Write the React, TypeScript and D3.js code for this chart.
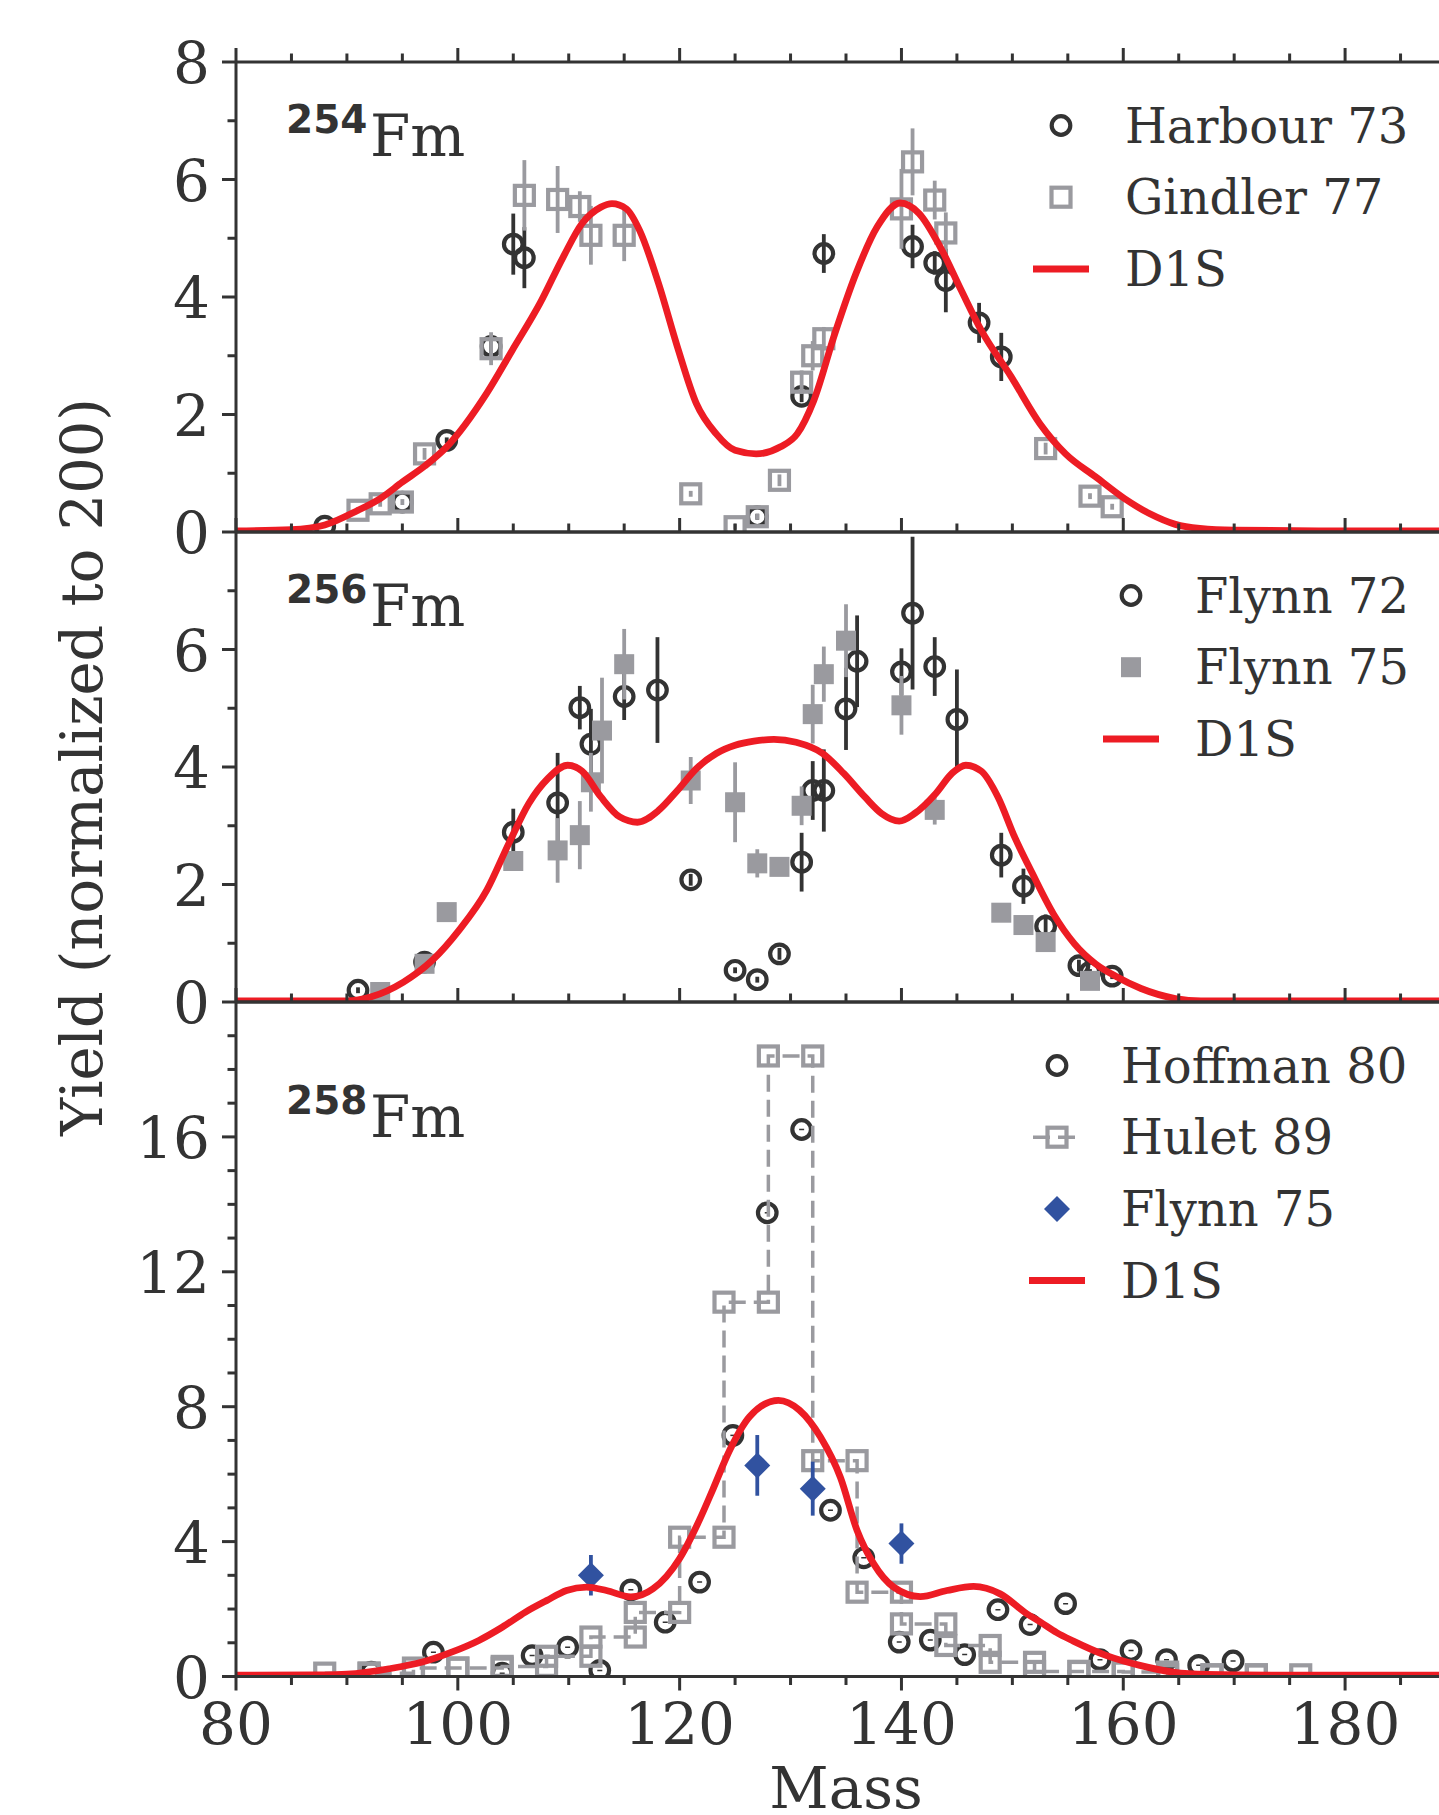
import React from 'react';
import * as d3 from 'd3';

// ---------- data ----------
// 254Fm
const harbourMass = [88, 95, 99, 103, 105, 106, 127, 131, 133, 141, 143, 144, 147, 149];
const harbourYield = [0.1, 0.51, 1.56, 3.16, 4.9, 4.67, 0.26, 2.31, 4.74, 4.86, 4.58, 4.28, 3.56, 2.98];
const harbourErr = [0, 0, 0.05, 0.12, 0.52, 0.52, 0.05, 0.1, 0.33, 0.37, 0.2, 0.54, 0.34, 0.41];

const gindlerMass = [91, 93, 95, 97, 103, 106, 109, 111, 112, 115, 121, 125, 127, 129, 131, 132, 133, 140, 141, 143, 144, 153, 157, 159];
const gindlerYield = [0.37, 0.48, 0.51, 1.33, 3.12, 5.73, 5.66, 5.54, 5.05, 5.05, 0.65, 0.09, 0.26, 0.88, 2.55, 3.0, 3.29, 5.5, 6.3, 5.65, 5.09, 1.42, 0.61, 0.43];
const gindlerErr = [0.05, 0.05, 0.05, 0.1, 0.28, 0.6, 0.57, 0.26, 0.5, 0.44, 0.05, 0.05, 0.05, 0.1, 0.2, 0.25, 0.2, 0.68, 0.57, 0.33, 0.35, 0.1, 0.05, 0.05];

const d1s254Mass = [80, 85, 88, 91, 93, 95, 97, 99, 102.6, 104.9, 107.4, 109.5, 111.2, 112.9, 113.9, 115.2, 116.4, 118.1, 119.8, 121.5, 123.3, 125, 126.9, 129.1, 130.6, 132.1, 134, 135.9, 137.8, 139.9, 141.6, 143.5, 145.4, 147.2, 149.9, 152.5, 154.8, 157.5, 160.1, 162.4, 164.7, 166.9, 170, 180, 190];
const d1s254Yield = [0.02, 0.04, 0.12, 0.37, 0.57, 0.85, 1.12, 1.45, 2.36, 3.09, 3.89, 4.68, 5.25, 5.53, 5.59, 5.5, 5.13, 4.23, 3.15, 2.19, 1.67, 1.39, 1.33, 1.45, 1.67, 2.24, 3.38, 4.4, 5.19, 5.6, 5.42, 4.85, 4.11, 3.43, 2.64, 1.84, 1.33, 0.94, 0.57, 0.31, 0.13, 0.06, 0.03, 0.02, 0.02];

// 256Fm
const flynn72Mass = [91, 97, 105, 109, 111, 112, 115, 118, 121, 125, 127, 129, 131, 132, 133, 135, 136, 140, 141, 143, 145, 149, 151, 153, 156, 157, 159];
const flynn72Yield = [0.2, 0.68, 2.89, 3.39, 5.01, 4.39, 5.2, 5.31, 2.08, 0.54, 0.38, 0.82, 2.38, 3.6, 3.6, 4.99, 5.8, 5.62, 6.62, 5.71, 4.81, 2.5, 1.97, 1.29, 0.62, 0.51, 0.44];
const flynn72Err = [0.05, 0.05, 0.4, 0.85, 0.37, 0.6, 0.4, 0.9, 0.1, 0.05, 0.05, 0.1, 0.5, 0.5, 0.7, 0.7, 0.78, 0.4, 1.3, 0.5, 0.85, 0.38, 0.3, 0.2, 0.1, 0.05, 0.05];

const flynn75Mass = [93, 97, 99, 105, 109, 111, 112, 113, 115, 121, 125, 127, 129, 131, 132, 133, 135, 140, 143, 149, 151, 153, 157];
const flynn75Yield = [0.17, 0.65, 1.53, 2.4, 2.58, 2.84, 3.74, 4.62, 5.75, 3.77, 3.4, 2.36, 2.3, 3.34, 4.9, 5.58, 6.15, 5.05, 3.27, 1.52, 1.31, 1.02, 0.36];
const flynn75Err = [0, 0, 0, 0.15, 0.55, 0.58, 0.5, 0.9, 0.6, 0.4, 0.68, 0.24, 0.15, 0.33, 0.5, 0.47, 0.62, 0.5, 0.25, 0, 0, 0, 0];

const d1s256Mass = [80, 90, 92.2, 95.1, 97.7, 100.1, 102.6, 104.6, 106.4, 108.1, 109.9, 111.2, 112.9, 114.6, 116.2, 118.1, 119.8, 121.5, 123.3, 125, 126.7, 128.5, 130.5, 132.9, 134.8, 136.7, 138.2, 139.8, 141.2, 143.1, 144.6, 145.8, 147.2, 148.7, 150.2, 151.8, 153.7, 155.6, 157.5, 159.4, 161.6, 164.7, 167, 175, 190];
const d1s256Yield = [0.02, 0.02, 0.09, 0.34, 0.71, 1.22, 1.9, 2.7, 3.38, 3.8, 4.03, 3.93, 3.49, 3.15, 3.06, 3.26, 3.6, 3.97, 4.23, 4.37, 4.44, 4.47, 4.42, 4.23, 3.89, 3.49, 3.21, 3.08, 3.21, 3.55, 3.9, 4.03, 3.93, 3.49, 2.81, 2.19, 1.5, 0.99, 0.65, 0.43, 0.23, 0.06, 0.02, 0.02, 0.02];

// 258Fm
const hoffmanMass = [92.2, 97.8, 104, 106.7, 109.9, 112.8, 115.6, 118.7, 121.8, 124.8, 127.9, 131, 133.6, 136.6, 139.8, 142.6, 145.7, 148.7, 151.6, 154.8, 157.9, 160.7, 163.9, 166.8, 169.9];
const hoffmanYield = [0.13, 0.72, 0.1, 0.62, 0.87, 0.18, 2.57, 1.61, 2.8, 7.15, 13.75, 16.22, 4.93, 3.52, 1.02, 1.08, 0.65, 1.98, 1.54, 2.16, 0.5, 0.77, 0.5, 0.33, 0.46];

const huletEdges = [88, 92, 96, 100, 104, 108, 112, 116, 120, 124, 128, 132, 136, 140, 144, 148, 152, 156, 160, 164, 168, 172, 176];
const huletBinYield = [0.1, 0.1, 0.25, 0.25, 0.3, 0.6, 1.17, 1.9, 4.13, 11.1, 18.4, 6.4, 2.5, 1.56, 0.92, 0.42, 0.15, 0.15, 0.13, 0.05, 0.05, 0.05];

const flynnDMass = [112, 127, 132, 140];
const flynnDYield = [3.0, 6.26, 5.57, 3.94];
const flynnDErr = [0.6, 0.9, 0.8, 0.6];

const d1s258Mass = [80, 88, 90, 93.8, 96.8, 99.5, 101.9, 104, 106.1, 108, 109.8, 111.6, 113.4, 115.6, 117.6, 120, 121.8, 123, 124.5, 126.3, 128.9, 130.8, 132.7, 134.5, 136, 137.5, 139.3, 141.7, 144.1, 146.5, 148.9, 151.3, 152.5, 154, 155.5, 158.5, 161.5, 164.5, 167.5, 173.5, 190];
const d1s258Yield = [0.04, 0.05, 0.07, 0.23, 0.43, 0.73, 1.07, 1.46, 1.91, 2.25, 2.55, 2.65, 2.55, 2.36, 2.6, 3.5, 4.65, 5.55, 6.7, 7.7, 8.19, 7.9, 7.1, 5.9, 4.33, 3.34, 2.65, 2.37, 2.55, 2.67, 2.45, 1.86, 1.62, 1.3, 1.05, 0.62, 0.33, 0.13, 0.06, 0.04, 0.04];

const xMajorTicks = [80, 100, 120, 140, 160, 180];
const xMinorTicks = [85, 90, 95, 105, 110, 115, 125, 130, 135, 145, 150, 155, 165, 170, 175, 185];
const yTicks254 = [0, 2, 4, 6, 8];
const yMinor254 = [1, 3, 5, 7];
const yTicks256 = [0, 2, 4, 6];
const yMinor256 = [1, 3, 5, 7];
const yTicks258 = [0, 4, 8, 12, 16];
const yMinor258 = [1, 2, 3, 5, 6, 7, 9, 10, 11, 13, 14, 15, 17, 18, 19];

// ---------- style ----------
const W = 1439, H = 1815;
const SERIF = '"DejaVu Serif", serif';
const SANS = '"DejaVu Sans", sans-serif';
const DARK = '#333333';
const GRAY = '#9a9a9f';
const RED = '#ed1c24';
const BLUE = '#3152a0';
const LEFT = 236, RIGHT = 1456;
const MAJ = 14, MIN = 8.5;
const CR = 9.3, CW = 4.2, SQ = 19, SW = 4.2;

const x = d3.scaleLinear().domain([80, 190]).range([LEFT, RIGHT]);

type Pt = [number, number];
const zip = (a: number[], b: number[]): Pt[] => a.map((m, i) => [m, b[i]]);

function ErrBars({ ms, vs, es, y, color }: any) {
  return (
    <g stroke={color} strokeWidth={3.8}>
      {ms.map((m: number, i: number) =>
        es[i] > 0 ? (
          <line key={i} x1={x(m)} x2={x(m)} y1={y(vs[i] - es[i])} y2={y(vs[i] + es[i])} />
        ) : null
      )}
    </g>
  );
}

function Circles({ ms, vs, y, dash }: any) {
  return (
    <g>
      {ms.map((m: number, i: number) => (
        <g key={i}>
          <circle cx={x(m)} cy={y(vs[i])} r={CR} fill="none" stroke={DARK} strokeWidth={CW} />
          {dash ? <line x1={x(m) - 2.5} x2={x(m) + 2.5} y1={y(vs[i])} y2={y(vs[i])} stroke={DARK} strokeWidth={1.5} /> : null}
        </g>
      ))}
    </g>
  );
}

function Squares({ pts, y, filled, size }: any) {
  const s = size;
  return (
    <g>
      {pts.map((p: Pt, i: number) => (
        <rect key={i} x={x(p[0]) - s / 2} y={y(p[1]) - s / 2} width={s} height={s}
          fill={filled ? GRAY : 'none'} stroke={filled ? 'none' : GRAY} strokeWidth={SW} />
      ))}
    </g>
  );
}

function Diamond({ cx, cy, r }: any) {
  return <path d={`M${cx},${cy - r}L${cx + r},${cy}L${cx},${cy + r}L${cx - r},${cy}Z`} fill={BLUE} />;
}

function Curve({ ms, vs, y }: any) {
  const line = d3.line<Pt>().x(d => x(d[0])).y(d => y(d[1])).curve(d3.curveMonotoneX);
  return <path d={line(zip(ms, vs)) || ''} fill="none" stroke={RED} strokeWidth={6.8} strokeLinejoin="round" />;
}

function Axes({ y, top, bottom, majors, minors, last }: any) {
  return (
    <g>
      <g stroke={DARK} strokeWidth={3}>
        {majors.map((v: number) => <line key={'M' + v} x1={LEFT - MAJ} x2={LEFT} y1={y(v)} y2={y(v)} />)}
        {minors.map((v: number) => <line key={'m' + v} x1={LEFT - MIN} x2={LEFT} y1={y(v)} y2={y(v)} />)}
        {xMajorTicks.map(v => <line key={'tx' + v} x1={x(v)} x2={x(v)} y1={top} y2={top - MAJ} />)}
        {xMinorTicks.map(v => <line key={'tn' + v} x1={x(v)} x2={x(v)} y1={top} y2={top - MIN} />)}
        {last && xMajorTicks.map(v => <line key={'bx' + v} x1={x(v)} x2={x(v)} y1={bottom} y2={bottom + MAJ} />)}
        {last && xMinorTicks.map(v => <line key={'bn' + v} x1={x(v)} x2={x(v)} y1={bottom} y2={bottom + MIN} />)}
        <line x1={LEFT} x2={LEFT} y1={top} y2={bottom} />
        <line x1={LEFT} x2={RIGHT} y1={top} y2={top} />
        <line x1={LEFT} x2={RIGHT} y1={bottom} y2={bottom} />
      </g>
      <g fontFamily={SERIF} fontSize={58} fill={DARK} textAnchor="end">
        {majors.map((v: number) => <text key={v} x={LEFT - 26} y={y(v) + 21}>{v}</text>)}
      </g>
      {last && (
        <g fontFamily={SERIF} fontSize={58} fill={DARK} textAnchor="middle">
          {xMajorTicks.map(v => <text key={v} x={x(v)} y={bottom + 67}>{v}</text>)}
        </g>
      )}
    </g>
  );
}

function PanelLabel({ top, h, num }: any) {
  const base = top + 0.2 * h;
  return (
    <g fill={DARK}>
      <text x={286} y={base - 23} fontFamily={SANS} fontWeight="bold" fontSize={39}>{num}</text>
      <text x={370} y={base} fontFamily={SERIF} fontSize={58}>Fm</text>
    </g>
  );
}

function Legend({ top, mx, items }: any) {
  return (
    <g>
      {items.map((it: any, i: number) => {
        const cy = top + 63.5 + i * 71.7;
        let mark: any = null;
        if (it.kind === 'circle') mark = <circle cx={mx} cy={cy} r={CR} fill="none" stroke={DARK} strokeWidth={CW} />;
        if (it.kind === 'hsq') mark = <rect x={mx - SQ / 2} y={cy - SQ / 2} width={SQ} height={SQ} fill="none" stroke={GRAY} strokeWidth={SW} />;
        if (it.kind === 'fsq') mark = <rect x={mx - 10} y={cy - 10} width={20} height={20} fill={GRAY} />;
        if (it.kind === 'hulet') mark = (
          <g>
            <line x1={mx - 24} x2={mx + 22} y1={cy} y2={cy} stroke={GRAY} strokeWidth={3.5} strokeDasharray="17,8" />
            <rect x={mx - SQ / 2} y={cy - SQ / 2} width={SQ} height={SQ} fill="none" stroke={GRAY} strokeWidth={SW} />
          </g>
        );
        if (it.kind === 'diamond') mark = <Diamond cx={mx} cy={cy} r={13} />;
        if (it.kind === 'line') mark = <line x1={mx - 28} x2={mx + 28} y1={cy} y2={cy} stroke={RED} strokeWidth={7} />;
        return (
          <g key={i}>
            {mark}
            <text x={mx + 64} y={cy + 17} fontFamily={SERIF} fontSize={48} fill={DARK}>{it.label}</text>
          </g>
        );
      })}
    </g>
  );
}

export default function App() {
  const p1 = { top: 62, bottom: 532 };
  const p2 = { top: 532, bottom: 1002 };
  const p3 = { top: 1002, bottom: 1676.5 };
  const y1 = d3.scaleLinear().domain([0, 8]).range([p1.bottom, p1.top]);
  const y2 = d3.scaleLinear().domain([0, 8]).range([p2.bottom, p2.top]);
  const y3 = d3.scaleLinear().domain([0, 20]).range([p3.bottom, p3.top]);

  const huletPts: Pt[] = huletBinYield.flatMap((v, i) => [[huletEdges[i], v], [huletEdges[i + 1], v]] as Pt[]);
  const huletLine = d3.line<Pt>().x(d => x(d[0])).y(d => y3(d[1]));

  return (
    <svg width={W} height={H} style={{ position: 'absolute', left: 0, top: 0, background: '#fff' }}>
      <defs>
        {[p1, p2, p3].map((p, i) => (
          <clipPath id={'clip' + i} key={i}>
            <rect x={LEFT} y={p.top} width={RIGHT - LEFT} height={p.bottom - p.top} />
          </clipPath>
        ))}
      </defs>
      <rect x={0} y={0} width={W} height={H} fill="#fff" />

      {/* Panel 1: 254Fm */}
      <g clipPath="url(#clip0)">
        <ErrBars ms={harbourMass} vs={harbourYield} es={harbourErr} y={y1} color={DARK} />
        <Circles ms={harbourMass} vs={harbourYield} y={y1} />
        <ErrBars ms={gindlerMass} vs={gindlerYield} es={gindlerErr} y={y1} color={GRAY} />
        <Squares pts={zip(gindlerMass, gindlerYield)} y={y1} size={SQ} />
        <Curve ms={d1s254Mass} vs={d1s254Yield} y={y1} />
      </g>

      {/* Panel 2: 256Fm */}
      <g clipPath="url(#clip1)">
        <ErrBars ms={flynn72Mass} vs={flynn72Yield} es={flynn72Err} y={y2} color={DARK} />
        <Circles ms={flynn72Mass} vs={flynn72Yield} y={y2} />
        <ErrBars ms={flynn75Mass} vs={flynn75Yield} es={flynn75Err} y={y2} color={GRAY} />
        <Squares pts={zip(flynn75Mass, flynn75Yield)} y={y2} filled size={20} />
        <Curve ms={d1s256Mass} vs={d1s256Yield} y={y2} />
      </g>

      {/* Panel 3: 258Fm */}
      <g clipPath="url(#clip2)">
        <Circles ms={hoffmanMass} vs={hoffmanYield} y={y3} dash />
        <path d={huletLine(huletPts) || ''} fill="none" stroke={GRAY} strokeWidth={3.5} strokeDasharray="17,8" />
        <Squares pts={huletPts} y={y3} size={SQ} />
        <ErrBars ms={flynnDMass} vs={flynnDYield} es={flynnDErr} y={y3} color={BLUE} />
        {flynnDMass.map((m, i) => <Diamond key={i} cx={x(m)} cy={y3(flynnDYield[i])} r={13} />)}
        <Curve ms={d1s258Mass} vs={d1s258Yield} y={y3} />
      </g>

      <Axes y={y1} top={p1.top} bottom={p1.bottom} majors={yTicks254} minors={yMinor254} />
      <Axes y={y2} top={p2.top} bottom={p2.bottom} majors={yTicks256} minors={yMinor256} />
      <Axes y={y3} top={p3.top} bottom={p3.bottom} majors={yTicks258} minors={yMinor258} last />

      <PanelLabel top={p1.top} h={p1.bottom - p1.top} num="254" />
      <PanelLabel top={p2.top} h={p2.bottom - p2.top} num="256" />
      <PanelLabel top={p3.top} h={p3.bottom - p3.top} num="258" />

      <Legend top={p1.top} mx={1061} items={[
        { kind: 'circle', label: 'Harbour 73' },
        { kind: 'hsq', label: 'Gindler 77' },
        { kind: 'line', label: 'D1S' },
      ]} />
      <Legend top={p2.top} mx={1131} items={[
        { kind: 'circle', label: 'Flynn 72' },
        { kind: 'fsq', label: 'Flynn 75' },
        { kind: 'line', label: 'D1S' },
      ]} />
      <Legend top={p3.top} mx={1057} items={[
        { kind: 'circle', label: 'Hoffman 80' },
        { kind: 'hulet', label: 'Hulet 89' },
        { kind: 'diamond', label: 'Flynn 75' },
        { kind: 'line', label: 'D1S' },
      ]} />

      <text x={846} y={1808} textAnchor="middle" fontFamily={SERIF} fontSize={58} fill={DARK}>Mass</text>
      <text transform={`translate(102,767) rotate(-90)`} textAnchor="middle" fontFamily={SERIF} fontSize={57.5} fill={DARK}>
        Yield (normalized to 200)
      </text>
    </svg>
  );
}
